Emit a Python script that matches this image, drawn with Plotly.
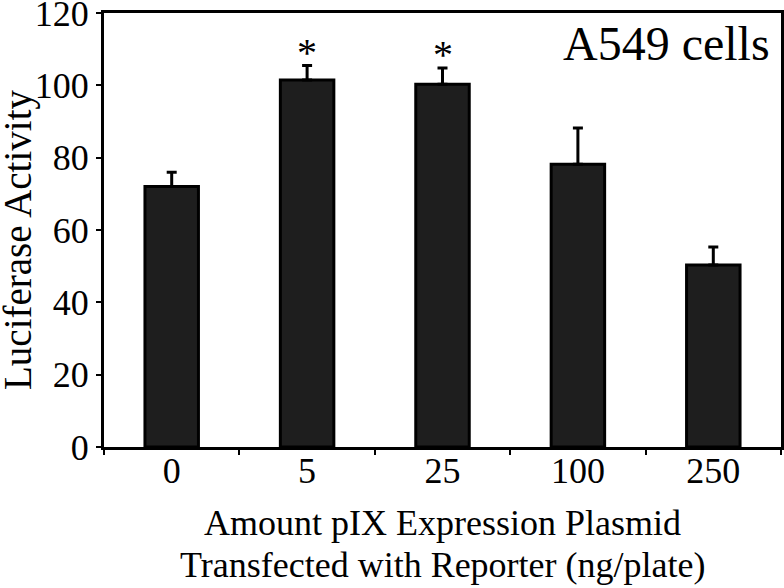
import plotly.graph_objects as go

categories = ["0", "5", "25", "100", "250"]
values = [72, 101.5, 100.3, 78.2, 50.3]
errors = [4, 4, 4.5, 10, 5]
stars = ["", "*", "*", "", ""]

FONT = "Liberation Serif"

fig = go.Figure()
fig.add_trace(go.Bar(
    x=categories, y=values,
    width=0.395,
    marker=dict(color="#1e1e1e", line=dict(color="black", width=3)),
    error_y=dict(type="data", array=errors, arrayminus=[0]*len(errors), symmetric=False,
                 color="black", thickness=3, width=5),
))

for i, (v, e, s) in enumerate(zip(values, errors, stars)):
    if s:
        fig.add_annotation(x=i, y=v + e, text=s, showarrow=False, yanchor="middle",
                           yshift=13, font=dict(family=FONT, size=40, color="black"))

fig.add_annotation(x=1, y=1, xref="paper", yref="paper", xanchor="right", yanchor="middle",
                   xshift=-9, yshift=-30, text="A549 cells", showarrow=False,
                   font=dict(family=FONT, size=48, color="black"))

# axis titles as annotations for precise placement
fig.add_annotation(x=0, y=0.5, xref="paper", yref="paper", xanchor="center", yanchor="middle",
                   xshift=-86, yshift=-10, textangle=-90, text="Luciferase Activity",
                   showarrow=False, font=dict(family=FONT, size=39, color="black"))
fig.add_annotation(x=0.5, y=0, xref="paper", yref="paper", xanchor="center", yanchor="middle",
                   yshift=-76, text="Amount pIX Expression Plasmid",
                   showarrow=False, font=dict(family=FONT, size=36, color="black"))
fig.add_annotation(x=0.5, y=0, xref="paper", yref="paper", xanchor="center", yanchor="middle",
                   yshift=-118, text="Transfected with Reporter (ng/plate)",
                   showarrow=False, font=dict(family=FONT, size=36, color="black"))

fig.update_layout(
    width=784, height=588,
    margin=dict(l=104, r=3, t=13, b=141, autoexpand=False),
    paper_bgcolor="white", plot_bgcolor="white",
    showlegend=False,
    font=dict(family=FONT, color="black"),
)
fig.update_xaxes(
    type="category", range=[-0.5, 4.5], automargin=False,
    showline=True, linecolor="black", linewidth=3, mirror=True,
    ticks="outside", tickson="boundaries", ticklen=5, tickwidth=2, tickcolor="black",
    ticklabelstandoff=-10,
    tickfont=dict(family=FONT, size=36, color="black"),
    showgrid=False,
)
fig.update_yaxes(
    range=[0, 120], dtick=20, automargin=False,
    showline=True, linecolor="black", linewidth=3, mirror=True,
    ticks="outside", ticklen=5, tickwidth=2, tickcolor="black",
    ticklabeloverflow="allow",
    tickfont=dict(family=FONT, size=36, color="black"),
    showgrid=False, zeroline=False,
)

fig.write_html("out.html", config={"displayModeBar": False},
               post_script="document.body.style.margin='0';document.body.style.overflow='hidden';")
